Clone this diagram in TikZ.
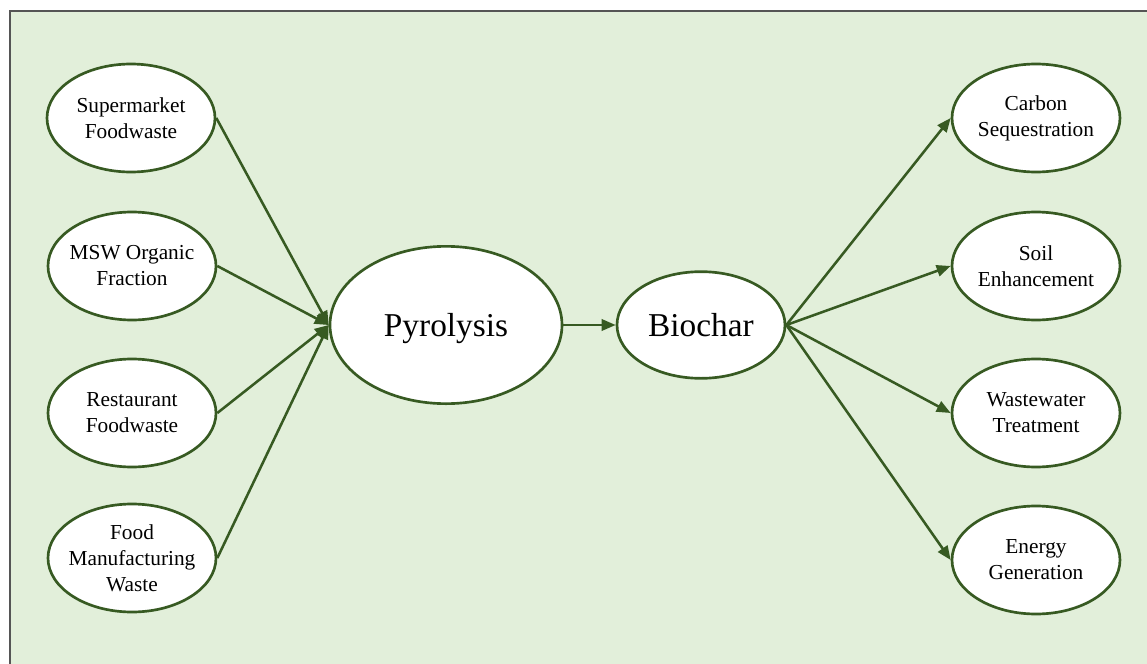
\documentclass[tikz,border=0pt]{standalone}
\usepackage{fontspec}
\setmainfont{Liberation Serif}
\usetikzlibrary{shapes.geometric,arrows.meta}
\definecolor{bgfill}{HTML}{E2EFDA}
\definecolor{dkgreen}{HTML}{375A22}
\definecolor{frame}{HTML}{555555}
\tikzset{
  smallell/.style={ellipse, draw=dkgreen, line width=2pt, fill=white, minimum width=126pt, minimum height=81pt, inner sep=-8pt, align=center, font=\fontsize{16}{19.5}\selectfont},
  bigell/.style={ellipse, draw=dkgreen, line width=2pt, fill=white, inner sep=0pt, font=\fontsize{25}{30}\selectfont},
  conn/.style={draw=dkgreen, line width=1.9pt, -{Triangle[length=10.5pt,width=8.5pt]}}
}
\begin{document}
\begin{tikzpicture}[x=0.75pt,y=-0.75pt]
\useasboundingbox (0,0) rectangle (1147,664);
\fill[bgfill] (10,11) rectangle (1147,664);
\draw[frame, line width=1.5pt] (10,664) -- (10,11) -- (1147,11);

\node[smallell] (sf) at (131,118) {Supermarket\\Foodwaste};
\node[smallell] (msw) at (132,266) {MSW Organic\\Fraction};
\node[smallell] (rf) at (132,413) {Restaurant\\Foodwaste};
\node[smallell] (fm) at (132,558) {Food\\Manufacturing\\Waste};

\node[bigell, minimum width=174pt, minimum height=118pt] (pyr) at (446,325) {\raisebox{-8.5pt}[0pt][0pt]{Pyrolysis}};
\node[bigell, minimum width=126pt, minimum height=80pt] (bio) at (701,325) {\raisebox{-8.5pt}[0pt][0pt]{Biochar}};

\node[smallell] (cs) at (1036,118) {Carbon\\Sequestration};
\node[smallell] (se) at (1036,266) {Soil\\Enhancement};
\node[smallell] (wt) at (1036,413) {Wastewater\\Treatment};
\node[smallell] (eg) at (1036,560) {Energy\\Generation};

\draw[conn] (sf.east) -- (pyr.west);
\draw[conn] (msw.east) -- (pyr.west);
\draw[conn] (rf.east) -- (pyr.west);
\draw[conn] (fm.east) -- (pyr.west);
\draw[conn] (pyr.east) -- (bio.west);
\draw[conn] (bio.east) -- (cs.west);
\draw[conn] (bio.east) -- (se.west);
\draw[conn] (bio.east) -- (wt.west);
\draw[conn] (bio.east) -- (eg.west);
\end{tikzpicture}
\end{document}
